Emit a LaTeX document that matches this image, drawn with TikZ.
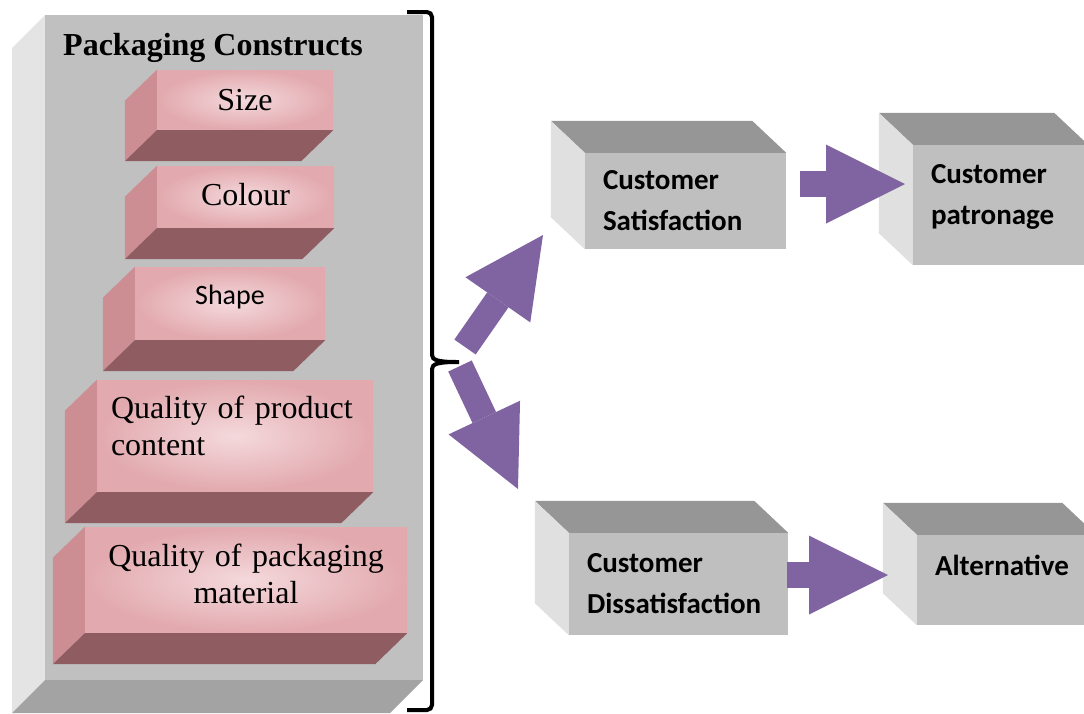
\documentclass[tikz,border=0pt]{standalone}
\usepackage{fontspec}
\setmainfont{Liberation Serif}
\newfontfamily\sansfnt{Carlito}
\usetikzlibrary{arrows.meta}

\definecolor{panelfront}{HTML}{C0C0C0}
\definecolor{panelside}{HTML}{E4E4E4}
\definecolor{panelbottom}{HTML}{A3A3A3}
\definecolor{boxfront}{HTML}{BFBFBF}
\definecolor{boxtop}{HTML}{969696}
\definecolor{boxside}{HTML}{E0E0E0}
\definecolor{pinklight}{HTML}{F4D9DC}
\definecolor{pinkdark}{HTML}{E2A9AE}
\definecolor{pinkside}{HTML}{CC8E93}
\definecolor{pinkbottom}{HTML}{8F5D61}
\definecolor{arrowpurple}{HTML}{8064A2}

\begin{document}
\begin{tikzpicture}[x=1pt,y=-1pt,
    pinkface/.style={inner color=pinklight, outer color=pinkdark, inner sep=0pt,
      font=\fontsize{32}{37}\selectfont},
    grayface/.style={fill=boxfront, inner sep=0pt, inner xsep=18pt, align=left,
      font=\sansfnt\bfseries\fontsize{29}{41}\selectfont},
    flow/.style={draw=arrowpurple, line width=26pt,
      -{Triangle[length=79pt, width=79pt, line width=0pt]}}]
  \clip (0,0) rectangle (1084,713);

  % panel of constructs
  \fill[panelside] (45,15) -- (12,48) -- (12,713) -- (45,680) -- cycle;
  \fill[panelbottom] (45,680) -- (423,680) -- (390,713) -- (12,713) -- cycle;
  \fill[panelfront] (45,15) rectangle (423,680);
  \node[font=\bfseries\fontsize{32}{37}\selectfont, anchor=base] (title) at (213,55) {Packaging Constructs};

  \node[pinkface, minimum width=176pt, minimum height=60pt] (size) at (245,100) {Size};
  \node[pinkface, minimum width=177pt, minimum height=62pt, text depth=6pt] (colour) at (245.5,197) {Colour};
  \node[pinkface, minimum width=190pt, minimum height=73pt, text depth=17pt,
    font=\sansfnt\fontsize{28}{34}\selectfont] (shape) at (230,303.5) {Shape};
  \node[pinkface, text width=248pt, inner xsep=14pt, minimum height=112pt, align=left,
    text depth=58pt] (content) at (235,436) {Quality of product\\content};
  \node[pinkface, text width=290pt, inner xsep=16pt, minimum height=106pt, align=center,
    text depth=50pt] (material) at (246,580) {Quality of packaging\\material};

  \foreach \b in {size,colour,shape,content,material}{
    \fill[pinkside] (\b.north west) -- ([shift={(-32,31)}]\b.north west)
      -- ([shift={(-32,31)}]\b.south west) -- (\b.south west) -- cycle;
    \fill[pinkbottom] (\b.south west) -- (\b.south east)
      -- ([shift={(-32,31)}]\b.south east) -- ([shift={(-32,31)}]\b.south west) -- cycle;
  }

  % outcomes
  \node[grayface, text width=165pt, minimum height=96pt] (sat) at (685.5,201) {Customer\\Satisfaction};
  \node[grayface, text width=139pt, minimum height=120pt, text depth=62pt] (pat) at (1000.5,205) {Customer\\patronage};
  \node[grayface, text width=183pt, minimum height=102pt] (dis) at (678.5,584) {Customer\\Dissatisfaction};
  \node[grayface, text width=143pt, minimum height=90pt, text depth=30pt] (alt) at (1006.5,580) {Alternative};

  \foreach \b in {sat,pat,dis,alt}{
    \fill[boxtop] (\b.north west) -- (\b.north east)
      -- ([shift={(-34,-32)}]\b.north east) -- ([shift={(-34,-32)}]\b.north west) -- cycle;
    \fill[boxside] (\b.north west) -- (\b.south west)
      -- ([shift={(-34,-32)}]\b.south west) -- ([shift={(-34,-32)}]\b.north west) -- cycle;
  }

  % arrows
  \coordinate (u0) at (465,347); \coordinate (u1) at (543,235);
  \coordinate (d0) at (460,366); \coordinate (d1) at (518,489);
  \coordinate (s0) at (800,184); \coordinate (s1) at (905,184);
  \coordinate (a0) at (787,575); \coordinate (a1) at (888,575);
  \draw[flow] (u0) -- (u1);
  \draw[flow] (d0) -- (d1);
  \draw[flow] (s0) -- (s1);
  \draw[flow] (a0) -- (a1);

  % brace
  \draw[line width=4pt, rounded corners=5pt] (407,12) -- (432,12) -- (432,350)
    .. controls (432,360) and (438,362) .. (462,362)
    .. controls (438,362) and (432,364) .. (432,374) -- (432,710) -- (407,710);
\end{tikzpicture}
\end{document}
